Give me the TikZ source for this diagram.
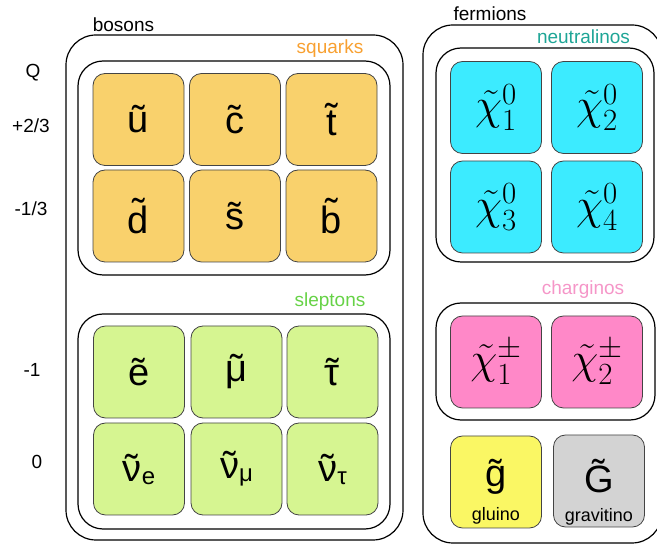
\RequirePackage{fix-cm}
\documentclass[tikz,border=0pt]{standalone}
\usepackage[no-math]{fontspec}
\setmainfont{Liberation Sans}

% sparticle colours
\definecolor{sqfill}{HTML}{F9D16C}
\definecolor{slfill}{HTML}{D6F591}
\definecolor{nefill}{HTML}{3CEBFF}
\definecolor{chfill}{HTML}{FF88C8}
\definecolor{glfill}{HTML}{FAF764}
\definecolor{grfill}{HTML}{D3D3D3}
\definecolor{sqtext}{HTML}{F8A030}
\definecolor{sltext}{HTML}{66D246}
\definecolor{netext}{HTML}{1EA596}
\definecolor{chtext}{HTML}{F596C8}
\definecolor{tileline}{HTML}{444444}

% letter with the font's own tilde centred on top
\newcommand\tld[1]{\leavevmode\setbox0\hbox{#1}%
  \rlap{\hbox to\wd0{\hss\raisebox{\dimexpr\ht0-1ex\relax}{˜}\hss}}\box0}
\newcommand\nusub[2]{\tld{#1}\raisebox{-3pt}{\fontsize{24}{24}\selectfont #2}}

\tikzset{
  outerbox/.style={draw, line width=1.2pt, rounded corners=30pt, inner sep=0pt},
  innerbox/.style={draw, line width=1.2pt, rounded corners=25pt, inner sep=0pt},
  tile/.style={draw=tileline, line width=0.8pt, rounded corners=12pt,
    minimum width=91pt, minimum height=92pt, inner sep=0pt,
    font=\fontsize{38}{40}\selectfont},
  chitile/.style={tile, font=\fontsize{44}{46}\selectfont},
  grouplabel/.style={anchor=base, inner sep=0pt, font=\fontsize{19}{21}\selectfont},
  qlabel/.style={grouplabel},
  symb/.style={anchor=base, inner sep=0pt, font=\fontsize{38}{40}\selectfont},
  smalllabel/.style={anchor=base, inner sep=0pt, font=\fontsize{18}{20}\selectfont},
}

\begin{document}
\begin{tikzpicture}[x=1pt, y=-1pt]
\path[use as bounding box, clip] (0,0) rectangle (657,545);

% charge column
\node[qlabel] (qhead) at (33,78) {Q};
\node[qlabel] (qup)   at (31,133) {+2/3};
\node[qlabel] (qdown) at (31,216) {-1/3};
\node[qlabel] (qlep)  at (32,377) {-1};
\node[qlabel] (qnu)   at (37,469) {0};

% bosons
\node[outerbox, minimum width=337pt, minimum height=505pt] (bosons) at (234.5,287.5) {};
\node[grouplabel] (bosonslbl) at (123.5,32) {bosons};

\node[innerbox, minimum width=312pt, minimum height=214pt] (squarks) at (234,168) {};
\node[grouplabel, text=sqtext] (squarkslbl) at (330,54) {squarks};

\node[tile, fill=sqfill] (su) at (138.5,119.5) {\tld{u}};
\node[tile, fill=sqfill] (sc) at (235,119.5)   {\tld{c}};
\node[tile, fill=sqfill] (st) at (331.5,119.5) {\tld{t}};
\node[tile, fill=sqfill] (sd) at (138.5,216)   {\tld{d}};
\node[tile, fill=sqfill] (ss) at (235,216)     {\tld{s}};
\node[tile, fill=sqfill] (sb) at (331.5,216)   {\tld{b}};

\node[innerbox, minimum width=312pt, minimum height=215pt] (sleptons) at (234,421.5) {};
\node[grouplabel, text=sltext] (sleptonslbl) at (330,307) {sleptons};

\node[tile, fill=slfill] (se)   at (139,372)   {\tld{e}};
\node[tile, fill=slfill] (smu)  at (236.5,372) {\tld{μ}};
\node[tile, fill=slfill] (stau) at (332.5,372) {\tld{τ}};
\node[tile, fill=slfill] (sne)  at (139,469)   {\nusub{ν}{e}};
\node[tile, fill=slfill] (snm)  at (236.5,469) {\nusub{ν}{μ}};
\node[tile, fill=slfill] (snt)  at (332.5,469) {\nusub{ν}{τ}};

% fermions
\node[outerbox, minimum width=239pt, minimum height=518pt] (fermions) at (542.5,284) {};
\node[grouplabel] (fermionslbl) at (490,21) {fermions};

\node[innerbox, minimum width=218pt, minimum height=214pt] (neutralinos) at (545,155) {};
\node[grouplabel, text=netext] (neutralinoslbl) at (583.5,44) {neutralinos};

\node[chitile, fill=nefill] (n1) at (496,107.5) {$\tilde{\chi}^0_1$};
\node[chitile, fill=nefill] (n2) at (597,107.5) {$\tilde{\chi}^0_2$};
\node[chitile, fill=nefill] (n3) at (496,207)   {$\tilde{\chi}^0_3$};
\node[chitile, fill=nefill] (n4) at (597,207)   {$\tilde{\chi}^0_4$};

\node[innerbox, minimum width=219pt, minimum height=117pt] (charginos) at (545.5,361.5) {};
\node[grouplabel, text=chtext] (charginoslbl) at (583,295) {charginos};

\node[chitile, fill=chfill] (c1) at (496,362) {$\tilde{\chi}^\pm_1$};
\node[chitile, fill=chfill] (c2) at (597,362) {$\tilde{\chi}^\pm_2$};

\node[tile, fill=glfill] (gluino)    at (496,482) {};
\node[symb]       (gluinosym) at (496,487) {\tld{g}};
\node[smalllabel] (gluinolbl) at (496,521) {gluino};

\node[tile, fill=grfill] (gravitino) at (599,481) {};
\node[symb]       (gravsym) at (599,493) {\tld{G}};
\node[smalllabel] (gravlbl) at (599,522) {gravitino};
\end{tikzpicture}
\end{document}
